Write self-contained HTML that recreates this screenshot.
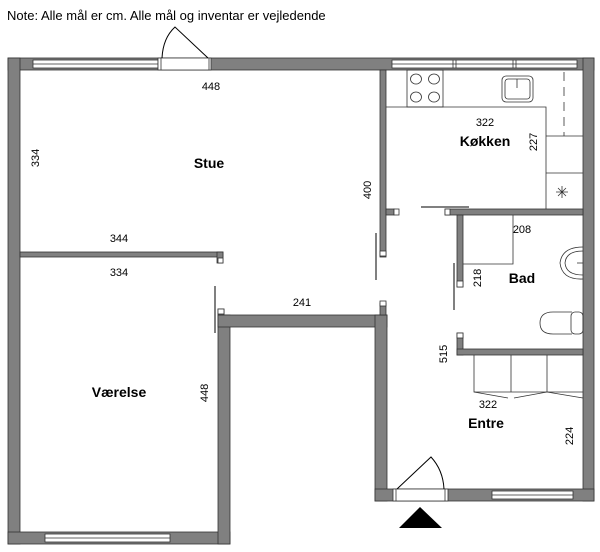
<!DOCTYPE html>
<html><head><meta charset="utf-8"><style>
html,body{margin:0;padding:0;background:#fff;}
svg{display:block;}
text{font-family:"Liberation Sans",sans-serif;fill:#000;}
.d{font-size:11px;}
.r{font-size:14px;font-weight:bold;}
</style></head><body>
<svg width="600" height="552" viewBox="0 0 600 552" xmlns="http://www.w3.org/2000/svg">
<text x="7" y="20" style="font-size:13px">Note: Alle mål er cm. Alle mål og inventar er vejledende</text>
<g fill="#808080" stroke="#333" stroke-width="0.8">
<rect x="8" y="58" width="586" height="12"/>
<rect x="8" y="58" width="12" height="486"/>
<rect x="583" y="58" width="11" height="443"/>
<rect x="8" y="532" width="222" height="12"/>
<rect x="218" y="315" width="12" height="229"/>
<rect x="218" y="315" width="169" height="12"/>
<rect x="375" y="315" width="12" height="186"/>
<rect x="375" y="489" width="219" height="12"/>
<rect x="380" y="70" width="6" height="187"/>
<rect x="386" y="209" width="8" height="6"/>
<rect x="20" y="252" width="203" height="5"/>
<rect x="217" y="252" width="6" height="11"/>
<rect x="445" y="209" width="138" height="6"/>
<rect x="457" y="215" width="6" height="72"/>
<rect x="457" y="333" width="6" height="22"/>
<rect x="457" y="349" width="126" height="6"/>
<rect x="380" y="303" width="6" height="12"/>
<rect x="218" y="309" width="6" height="6"/>
</g>
<g fill="#fff" stroke="#333" stroke-width="0.8">
<rect x="33" y="60" width="125" height="8"/><line x1="33" y1="64" x2="158" y2="64"/>
<rect x="392" y="60" width="185" height="8"/><line x1="392" y1="64" x2="577" y2="64"/>
<line x1="453" y1="60" x2="453" y2="68"/><line x1="456" y1="60" x2="456" y2="68"/>
<line x1="513" y1="60" x2="513" y2="68"/><line x1="516" y1="60" x2="516" y2="68"/>
<rect x="45" y="534" width="125" height="8"/><line x1="45" y1="538" x2="170" y2="538"/>
<rect x="492" y="491" width="81" height="8"/><line x1="492" y1="495" x2="573" y2="495"/>
<rect x="158" y="58" width="53" height="12"/>
<rect x="161" y="58" width="48" height="12"/>
<rect x="393" y="489" width="55" height="12"/>
<rect x="396" y="489" width="49" height="12"/>
<rect x="394" y="209" width="5" height="6"/>
<rect x="445" y="209" width="5" height="6"/>
<rect x="380" y="251" width="6" height="5"/>
<rect x="457" y="281" width="6" height="6"/>
<rect x="457" y="333" width="6" height="5"/>
<rect x="380" y="301" width="6" height="5"/>
<rect x="218" y="258" width="5" height="5"/>
<rect x="218" y="309" width="6" height="5"/>
</g>
<g fill="none" stroke="#000" stroke-width="1">
<path d="M162 58 Q163 38 175 27 L208 58"/>
<path d="M397 489 L431 457 Q443 470 444 489"/>
<line x1="376" y1="233" x2="376" y2="280"/>
<line x1="454" y1="263" x2="454" y2="310"/>
<line x1="215" y1="286" x2="215" y2="333"/>
<line x1="421" y1="207" x2="469" y2="207"/>
</g>
<g fill="none" stroke="#333" stroke-width="0.8">
<path d="M386 107 H546 V209"/>
<rect x="407" y="70" width="36" height="37"/>
<ellipse cx="416" cy="79" rx="5.5" ry="5"/><ellipse cx="434" cy="79" rx="5.5" ry="5"/>
<ellipse cx="416" cy="97" rx="5.5" ry="5"/><ellipse cx="434" cy="97" rx="5.5" ry="5"/>
<rect x="502" y="76" width="31" height="26" rx="4"/>
<rect x="505" y="79" width="25" height="20" rx="3"/>
<line x1="517" y1="79" x2="517" y2="88"/>
<line x1="546" y1="136" x2="583" y2="136"/>
<line x1="546" y1="173" x2="583" y2="173"/>
<line x1="564" y1="72" x2="564" y2="136" stroke-dasharray="9,6"/>
<path d="M556 192 H568 M562 186 V198 M558 188 L566 196 M566 188 L558 196"/>
<path d="M463 264 H513 V215"/>
<path d="M583 247 Q562 247 560 263 Q562 280 583 279"/>
<path d="M583 251 Q566 251 565 263 Q566 275 583 275"/>
<line x1="577" y1="263" x2="583" y2="263"/>
<path d="M572 312 H553 Q540 312 540 323 Q540 334 553 334 H572"/>
<rect x="571" y="312" width="12" height="22" rx="4"/>
<path d="M474 355 V392 H583 M511 355 V392 M547 355 V392"/>
<path d="M474 392 L508 398 M514 398 L547 392 L583 398"/>
</g>
<polygon points="420,507 399,528 442,528" fill="#000"/>
<g class="d">
<text x="211" y="90" text-anchor="middle">448</text>
<text x="119" y="242" text-anchor="middle">344</text>
<text x="119" y="276" text-anchor="middle">334</text>
<text x="302" y="306" text-anchor="middle">241</text>
<text x="485" y="126" text-anchor="middle">322</text>
<text x="522" y="233" text-anchor="middle">208</text>
<text x="488" y="408" text-anchor="middle">322</text>
<text transform="translate(39,158) rotate(-90)" text-anchor="middle">334</text>
<text transform="translate(371,190) rotate(-90)" text-anchor="middle">400</text>
<text transform="translate(537,142) rotate(-90)" text-anchor="middle">227</text>
<text transform="translate(481,278) rotate(-90)" text-anchor="middle">218</text>
<text transform="translate(447,354) rotate(-90)" text-anchor="middle">515</text>
<text transform="translate(208,393) rotate(-90)" text-anchor="middle">448</text>
<text transform="translate(573,436) rotate(-90)" text-anchor="middle">224</text>
</g>
<g class="r">
<text x="209" y="168" text-anchor="middle">Stue</text>
<text x="485" y="146" text-anchor="middle">Køkken</text>
<text x="522" y="283" text-anchor="middle">Bad</text>
<text x="119" y="397" text-anchor="middle">Værelse</text>
<text x="486" y="428" text-anchor="middle">Entre</text>
</g>
</svg>
</body></html>
